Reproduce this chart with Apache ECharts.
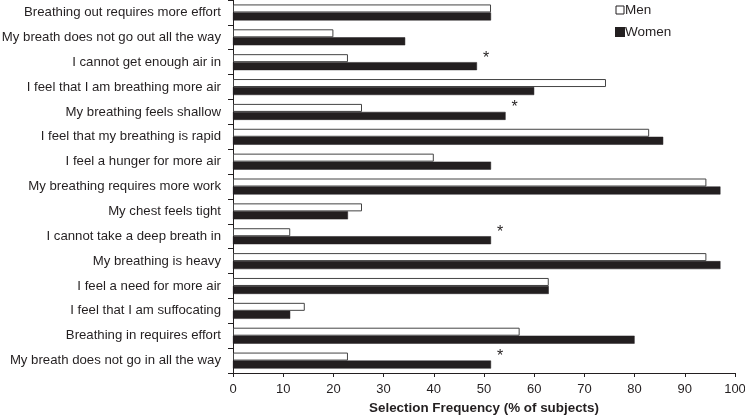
<!DOCTYPE html>
<html><head><meta charset="utf-8">
<script src="https://cdn.jsdelivr.net/npm/echarts@6/dist/echarts.min.js"></script>
<style>html,body{margin:0;padding:0;background:#fff}#c{width:745px;height:417px}</style>
</head><body><div id="c"></div>
<script>
var categories = [
  "Breathing out requires more effort",
  "My breath does not go out all the way",
  "I cannot get enough air in",
  "I feel that I am breathing more air",
  "My breathing feels shallow",
  "I feel that my breathing is rapid",
  "I feel a hunger for more air",
  "My breathing requires more work",
  "My chest feels tight",
  "I cannot take a deep breath in",
  "My breathing is heavy",
  "I feel a need for more air",
  "I feel that I am suffocating",
  "Breathing in requires effort",
  "My breath does not go in all the way"
];
var men   = [51.4, 20.0, 22.9, 74.3, 25.7, 82.9, 40.0, 94.3, 25.7, 11.4, 94.3, 62.9, 14.3, 57.1, 22.9];
var women = [51.4, 34.3, 48.6, 60.0, 54.3, 85.7, 51.4, 97.1, 22.9, 51.4, 97.1, 62.9, 11.4, 80.0, 51.4];
var significant = [false, false, true, false, true, false, false, false, false, true, false, false, false, false, true];
var xTicks = [0, 10, 20, 30, 40, 50, 60, 70, 80, 90, 100];

var ink = '#231f20';
var font = '"Liberation Sans", Arial, sans-serif';
var womenData = women.map(function (v, i) {
  return significant[i] ? {
    value: v,
    label: { show: true, position: 'right', formatter: '*', offset: [1, -8],
             color: ink, fontSize: 16, fontFamily: font }
  } : v;
});

var chart = echarts.init(document.getElementById('c'), null, { renderer: 'canvas' });
chart.setOption({
  animation: false,
  textStyle: { fontFamily: font },
  grid: { left: 233, right: 10, top: 0, bottom: 44, outerBoundsMode: 'none', containLabel: false },
  legend: {
    orient: 'vertical', left: 610, top: -2, itemWidth: 8, itemHeight: 8, itemGap: 8,
    icon: 'rect',
    textStyle: { fontSize: 13.5, color: ink, fontFamily: font, padding: [0, 0, 0, -4] },
    data: [
      { name: 'Men', itemStyle: { color: '#fff', borderColor: ink, borderWidth: 1 } },
      { name: 'Women' }
    ]
  },
  xAxis: {
    type: 'value', min: 0, max: 100, interval: 10,
    name: 'Selection Frequency (% of subjects)', nameLocation: 'middle', nameGap: 29,
    nameTextStyle: { fontSize: 13.4, fontWeight: 'bold', color: ink, fontFamily: font },
    axisLine: { show: true, lineStyle: { color: ink, width: 1 } },
    axisTick: { show: true, length: 4, lineStyle: { color: ink } },
    axisLabel: { fontSize: 13, color: ink, margin: 10, fontFamily: font,
                 formatter: function (v) { return xTicks.indexOf(v) >= 0 ? String(v) : ''; } },
    splitLine: { show: false }
  },
  yAxis: {
    type: 'category', data: categories, inverse: true,
    axisLine: { show: true, lineStyle: { color: ink, width: 1 } },
    axisTick: { show: true, length: 5, lineStyle: { color: ink } },
    axisLabel: { fontSize: 13.2, color: ink, margin: 12, fontFamily: font }
  },
  series: [
    { name: 'Men', type: 'bar', data: men, barWidth: 8, barGap: '0%',
      itemStyle: { color: '#fff', borderColor: '#444', borderWidth: 1 } },
    { name: 'Women', type: 'bar', data: womenData, barWidth: 8,
      itemStyle: { color: ink, borderColor: ink, borderWidth: 0.5 } }
  ]
});
</script></body></html>
